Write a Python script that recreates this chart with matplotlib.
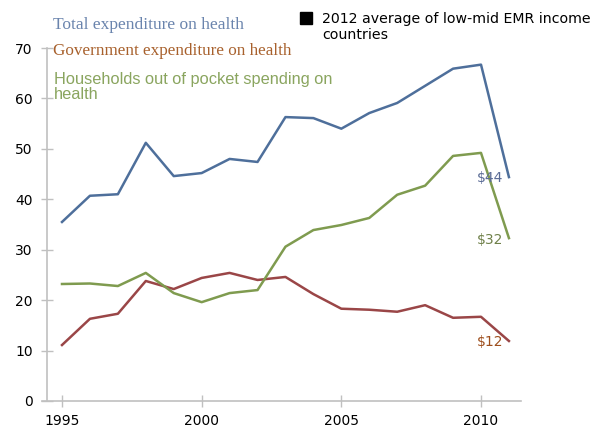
import numpy as np
import matplotlib
matplotlib.use('Agg')
import matplotlib.pyplot as plt

# data
years = list(range(1995, 2012))
total = [35.5, 40.7, 41.0, 51.2, 44.6, 45.2, 48.0, 47.4, 56.3, 56.1, 54.0,
         57.1, 59.1, 62.5, 65.9, 66.7, 44.4]
government = [11.1, 16.3, 17.3, 23.8, 22.2, 24.4, 25.4, 24.0, 24.6, 21.2, 18.3,
              18.1, 17.7, 19.0, 16.5, 16.7, 11.9]
households = [23.2, 23.3, 22.8, 25.4, 21.4, 19.6, 21.4, 22.0, 30.6, 33.9, 34.9,
              36.3, 40.9, 42.7, 48.6, 49.2, 32.3]
end_labels = ['$44', '$32', '$12']
end_label_y = [44.2, 31.9, 11.7]
xticks = [1995, 2000, 2005, 2010]
yticks = [0, 10, 20, 30, 40, 50, 60, 70]

W, H = 598, 434
fig = plt.figure(figsize=(W / 100, H / 100), dpi=100)

def fx(px):
    return px / W

def fy(py):
    return 1 - py / H

# axes box: x from 42 to 521 px, y from 48 to 401 px
ax = fig.add_axes([fx(42), fy(401), fx(521) - fx(42), fy(48) - fy(401)])

c_total = '#4e6f9b'
c_gov = '#9a4647'
c_hh = '#7f9b4f'

ax.plot(years, total, color=c_total, lw=1.8)
ax.plot(years, government, color=c_gov, lw=1.8)
ax.plot(years, households, color=c_hh, lw=1.8)

px_per_year = (481 - 62) / 15.0
ax.set_xlim(1995 - 20 / px_per_year, 1995 + (521 - 62) / px_per_year)
ax.set_ylim(0, 70)

for s in ['top', 'right']:
    ax.spines[s].set_visible(False)
ax.spines['left'].set_position(('data', 1995 - 15 / px_per_year))
ax.spines['left'].set_color('#c0c0c0')
ax.spines['bottom'].set_color('#c0c0c0')
ax.spines['left'].set_linewidth(1.2)
ax.spines['bottom'].set_linewidth(1.2)

ax.set_xticks(xticks)
ax.set_yticks(yticks)
ax.tick_params(axis='both', direction='inout', length=8.5, width=1, color='#c0c0c0',
               labelsize=10, labelcolor='black')
ax.tick_params(axis='y', pad=6)
ax.tick_params(axis='x', pad=5)

# end-of-line dollar labels
end_colors = ['#5b6c96', '#6f8049', '#9e4f1d']
for lab, yv, col in zip(end_labels, end_label_y, end_colors):
    ax.text(2010.32, yv, lab, color=col, fontsize=10,
            family='DejaVu Sans', ha='center', va='center')

# series captions
fig.text(fx(53), fy(25), 'Total expenditure on health', color='#6a84ad',
         fontsize=12.5, family='Liberation Serif', va='center')
fig.text(fx(53), fy(51), 'Government expenditure on health', color='#a8612d',
         fontsize=12.3, family='Liberation Serif', va='center')
fig.text(fx(54), fy(87), 'Households out of pocket spending on\nhealth', color='#8aa55f',
         fontsize=11.8, family='Liberation Sans', va='center', linespacing=0.95)

# legend-like square
fig.patches.append(plt.Rectangle((fx(300), fy(24)), fx(12), 12 / H,
                                 transform=fig.transFigure, color='black'))
fig.text(fx(322), fy(27), '2012 average of low-mid EMR income\ncountries',
         color='black', fontsize=10.2, family='DejaVu Sans', va='center',
         linespacing=1.1)

fig.savefig('out.png', dpi=100)
